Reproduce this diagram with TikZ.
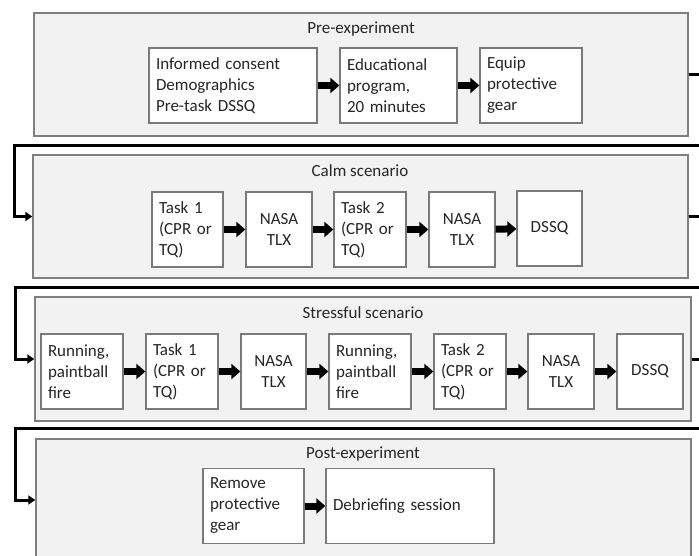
\documentclass[tikz,border=0pt]{standalone}
\usepackage{fontspec}
\setmainfont{Carlito}
\usetikzlibrary{arrows.meta}
\definecolor{panelfill}{HTML}{F2F2F2}
\definecolor{panelline}{HTML}{7F7F7F}
\definecolor{boxline}{HTML}{7A7A7A}
\definecolor{txt}{HTML}{262626}
\tikzset{
  panel/.style={draw=panelline, fill=panelfill, line width=1.4pt, inner sep=0pt},
  bx/.style={draw=boxline, fill=white, line width=1.3pt, minimum height=75pt,
    inner xsep=7pt, inner ysep=0pt, text=txt, font=\fontsize{17}{21}\selectfont},
  lbx/.style={bx, text width=#1, align=left},
  cbx/.style={bx, minimum width=#1, align=center},
  ttl/.style={text=txt, font=\fontsize{17}{21}\selectfont, inner sep=0pt},
  blk/.style={line width=7pt, -{Triangle[length=9pt,width=15pt]}},
  conn/.style={line width=3pt, -{Triangle[length=7pt,width=9pt]}}
}
\begin{document}
\begin{tikzpicture}[x=1pt,y=-1pt]
\useasboundingbox (0,0) rectangle (699,556);
\clip (0,0) rectangle (699,556);
% panels
\node[panel, minimum width=654pt, minimum height=123pt] (p1) at (361,74.5) {};
\node[panel, minimum width=655pt, minimum height=123pt] (p2) at (360.5,216.5) {};
\node[panel, minimum width=656pt, minimum height=124pt] (p3) at (363,359) {};
\node[panel, minimum width=655pt, minimum height=122pt] (p4) at (363.5,500) {};
% titles
\node[ttl] (t1) at (361,29) {Pre-experiment};
\node[ttl] (t2) at (360,171) {Calm scenario};
\node[ttl] (t3) at (363,313) {Stressful scenario};
\node[ttl] (t4) at (363,454) {Post-experiment};
% panel 1
\node[lbx=154pt] (a1) at (233,85.5) {Informed consent\\Demographics\\Pre-task DSSQ};
\node[lbx=103pt] (a2) at (398.5,85.5) {Educational\\program,\\20 minutes};
\node[lbx=88pt] (a3) at (531,85.5) {Equip\\protective\\gear};
\draw[blk] (a1) -- (a2);
\draw[blk] (a2) -- (a3);
% panel 2
\node[lbx=57pt] (b1) at (187.5,229.5) {Task 1\\(CPR or\\TQ)};
\node[cbx=66pt] (b2) at (279,229.5) {NASA\\TLX};
\node[lbx=58pt] (b3) at (370,229.5) {Task 2\\(CPR or\\TQ)};
\node[cbx=66pt] (b4) at (462,229.5) {NASA\\TLX};
\node[cbx=65pt] (b5) at (549.5,228.5) {DSSQ};
\draw[blk] (b1) -- (b2);
\draw[blk] (b2) -- (b3);
\draw[blk] (b3) -- (b4);
\draw[blk] (b4) -- (b5);
% panel 3
\node[lbx=68pt] (c1) at (82,371.5) {Running,\\paintball\\fire};
\node[lbx=58pt] (c2) at (182,371.5) {Task 1\\(CPR or\\TQ)};
\node[cbx=65pt] (c3) at (273.5,371.5) {NASA\\TLX};
\node[lbx=68pt] (c4) at (370,371.5) {Running,\\paintball\\fire};
\node[lbx=58pt] (c5) at (470,371.5) {Task 2\\(CPR or\\TQ)};
\node[cbx=66pt] (c6) at (561,371.5) {NASA\\TLX};
\node[cbx=66pt] (c7) at (650,371.5) {DSSQ};
\draw[blk] (c1) -- (c2);
\draw[blk] (c2) -- (c3);
\draw[blk] (c3) -- (c4);
\draw[blk] (c4) -- (c5);
\draw[blk] (c5) -- (c6);
\draw[blk] (c6) -- (c7);
% panel 4
\node[lbx=87pt] (d1) at (253.5,506) {Remove\\protective\\gear};
\node[lbx=154pt] (d2) at (410,506) {Debriefing session};
\draw[blk] (d1) -- (d2);
% connectors between panels
\coordinate (r1) at (703,146);
\coordinate (l1) at (14,146);
\coordinate (r2) at (703,287);
\coordinate (l2) at (15,287);
\coordinate (r3) at (703,428);
\coordinate (l3) at (15,428);
\draw[conn] (p1.east) -| (r1) -- (l1) |- (p2.west);
\draw[conn] (p2.east) -| (r2) -- (l2) |- (p3.west);
\draw[conn] (p3.east) -| (r3) -- (l3) |- (p4.west);
\end{tikzpicture}
\end{document}
